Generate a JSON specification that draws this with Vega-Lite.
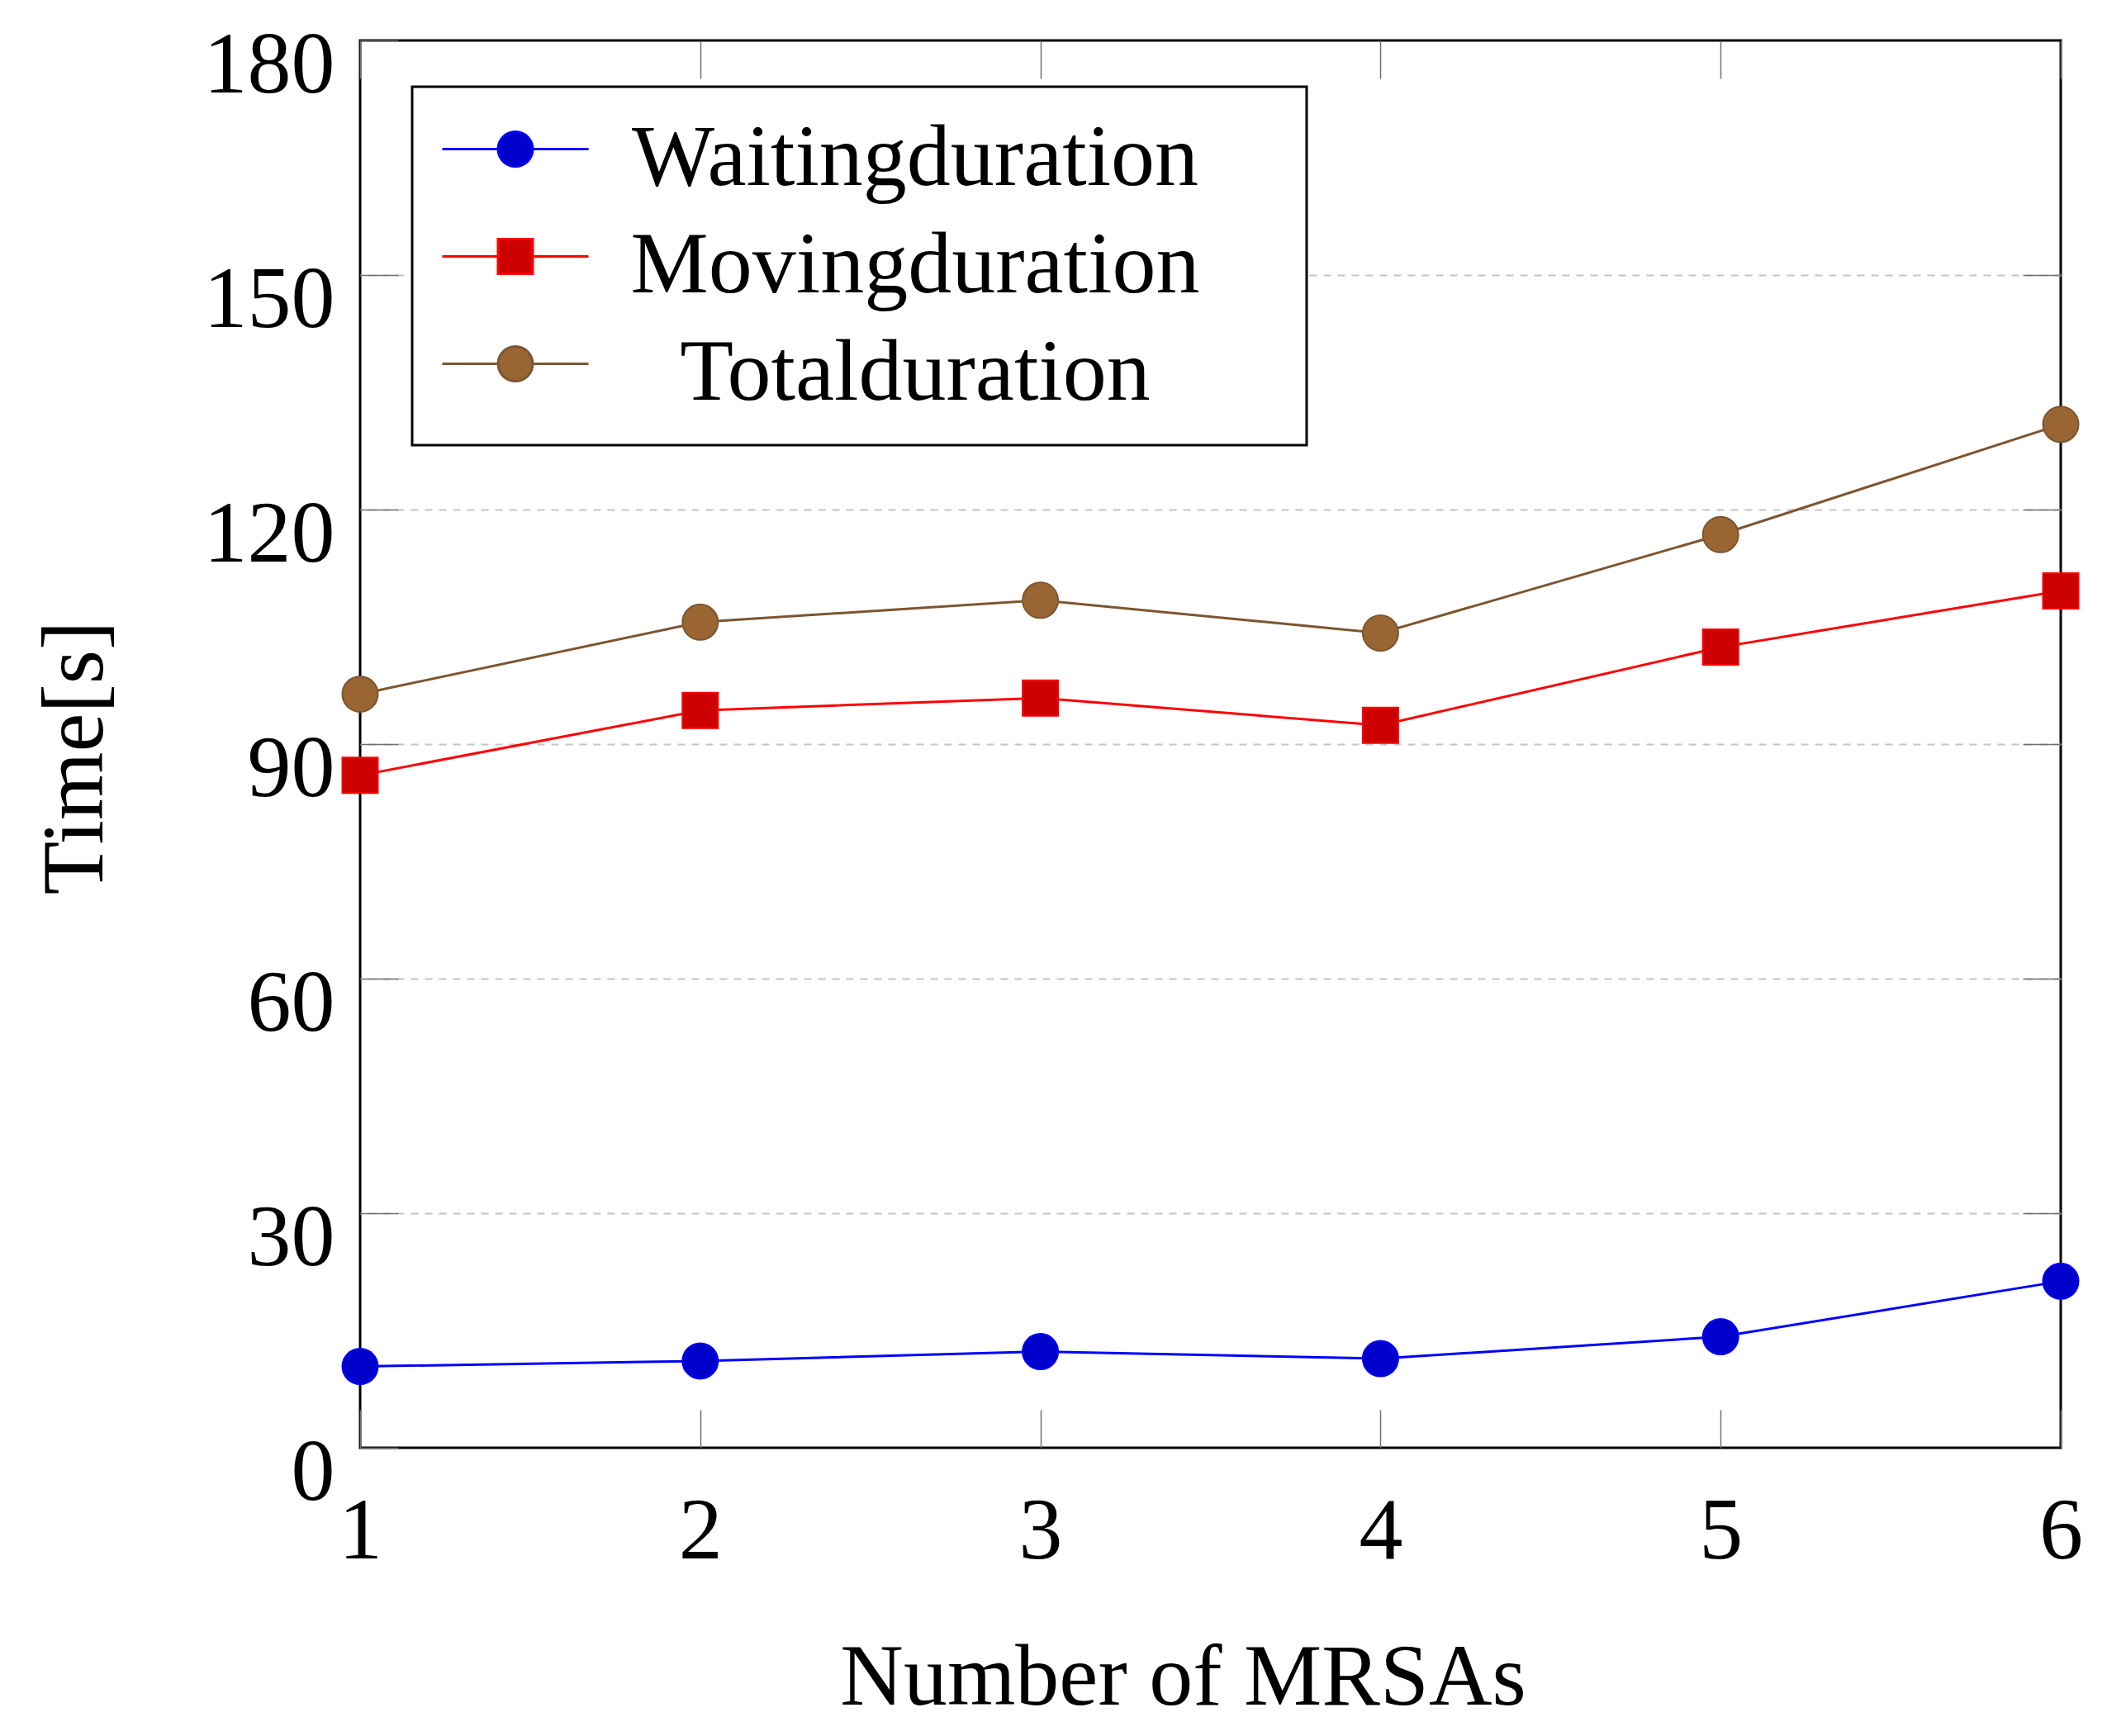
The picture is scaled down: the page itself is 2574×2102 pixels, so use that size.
{
  "$schema": "https://vega.github.io/schema/vega-lite/v6.json",
  "width": 2059,
  "height": 1704,
  "autosize": "none",
  "padding": {"left": 436, "top": 49, "right": 79, "bottom": 349},
  "background": "white",
  "config": {
    "font": "Liberation Serif",
    "view": {"stroke": "black", "strokeWidth": 3},
    "legend": {
      "orient": "none", "legendX": 63, "legendY": 56,
      "padding": 34, "rowPadding": 24,
      "strokeColor": "black", "strokeWidth": 3, "fillColor": "white",
      "symbolSize": 3600, "symbolStrokeWidth": 3, "symbolOffset": 38, "symbolOpacity": 1,
      "labelFontSize": 106, "labelColor": "black", "labelAlign": "center",
      "labelOffset": 431, "labelLimit": 3000
    }
  },
  "data": {
    "values": [
      {"mrsas": 1, "series": "Waitingduration", "time": 10.4},
      {"mrsas": 2, "series": "Waitingduration", "time": 11.1},
      {"mrsas": 3, "series": "Waitingduration", "time": 12.3},
      {"mrsas": 4, "series": "Waitingduration", "time": 11.4},
      {"mrsas": 5, "series": "Waitingduration", "time": 14.2},
      {"mrsas": 6, "series": "Waitingduration", "time": 21.3},
      {"mrsas": 1, "series": "Movingduration", "time": 86.0},
      {"mrsas": 2, "series": "Movingduration", "time": 94.3},
      {"mrsas": 3, "series": "Movingduration", "time": 95.9},
      {"mrsas": 4, "series": "Movingduration", "time": 92.4},
      {"mrsas": 5, "series": "Movingduration", "time": 102.4},
      {"mrsas": 6, "series": "Movingduration", "time": 109.6},
      {"mrsas": 1, "series": "Totalduration", "time": 96.4},
      {"mrsas": 2, "series": "Totalduration", "time": 105.6},
      {"mrsas": 3, "series": "Totalduration", "time": 108.4},
      {"mrsas": 4, "series": "Totalduration", "time": 104.2},
      {"mrsas": 5, "series": "Totalduration", "time": 116.8},
      {"mrsas": 6, "series": "Totalduration", "time": 130.9}
    ]
  },
  "layer": [
    {
      "mark": {"type": "line", "strokeWidth": 3},
      "encoding": {
        "x": {
          "field": "mrsas", "type": "quantitative",
          "scale": {"domain": [1, 6], "nice": false, "zero": false},
          "axis": {
            "orient": "bottom", "values": [1, 2, 3, 4, 5, 6], "format": "d",
            "domain": false, "grid": false,
            "tickSize": -46, "tickColor": "#707070", "tickWidth": 1.5,
            "labelFontSize": 106, "labelColor": "black", "labelPadding": 95,
            "labelFlush": false, "labelOverlap": false,
            "title": "Number of MRSAs", "titleFontSize": 106, "titleFontWeight": "normal",
            "titleColor": "black", "titleX": 996, "titleY": 310, "titleBaseline": "alphabetic"
          }
        },
        "y": {
          "field": "time", "type": "quantitative",
          "scale": {"domain": [0, 180], "nice": false},
          "axis": {
            "orient": "left", "values": [0, 30, 60, 90, 120, 150, 180],
            "domain": false, "grid": false,
            "tickSize": -46, "tickColor": "#707070", "tickWidth": 1.5,
            "labelFontSize": 106, "labelColor": "black", "labelPadding": 77,
            "labelOffset": 30, "labelBaseline": "middle", "labelOverlap": false, "labelFlush": false,
            "title": "Time[s]", "titleFontSize": 106, "titleFontWeight": "normal",
            "titleColor": "black", "titleX": -313, "titleY": 868, "titleAngle": 270,
            "titleBaseline": "alphabetic"
          }
        },
        "stroke": {
          "field": "series", "type": "nominal",
          "scale": {"domain": ["Waitingduration", "Movingduration", "Totalduration"], "range": ["#0000FF", "#FF0000", "#7D5530"]},
          "legend": {"title": null}
        }
      }
    },
    {
      "transform": [{"filter": "datum.series !== 'Movingduration'"}],
      "mark": {"type": "point", "shape": "circle", "filled": true, "size": 1849, "strokeWidth": 2, "opacity": 1},
      "encoding": {
        "x": {
          "field": "mrsas", "type": "quantitative",
          "axis": {
            "orient": "top", "values": [1, 2, 3, 4, 5, 6], "domain": false, "grid": false,
            "labels": false, "title": null,
            "tickSize": -46, "tickColor": "#707070", "tickWidth": 1.5
          }
        },
        "y": {
          "field": "time", "type": "quantitative",
          "axis": {
            "orient": "right", "values": [30, 60, 90, 120, 150], "domain": false,
            "labels": false, "title": null,
            "tickSize": -46, "tickColor": "#707070", "tickWidth": 1.5,
            "grid": true, "gridColor": "#c4c4c4", "gridDash": [9, 8], "gridWidth": 2
          }
        },
        "fill": {
          "field": "series", "type": "nominal",
          "scale": {"domain": ["Waitingduration", "Movingduration", "Totalduration"], "range": ["#0000CC", "#CC0000", "#996633"]},
          "legend": {"title": null}
        },
        "stroke": {"field": "series", "type": "nominal", "legend": {"title": null}}
      }
    },
    {
      "transform": [{"filter": "datum.series === 'Movingduration'"}],
      "mark": {"type": "point", "shape": "square", "filled": true, "size": 1849, "strokeWidth": 2, "opacity": 1},
      "encoding": {
        "x": {"field": "mrsas", "type": "quantitative", "axis": null},
        "y": {"field": "time", "type": "quantitative", "axis": null},
        "fill": {"field": "series", "type": "nominal", "legend": {"title": null}},
        "stroke": {"field": "series", "type": "nominal", "legend": {"title": null}}
      }
    },
    {
      "mark": {"type": "point", "filled": true, "opacity": 0},
      "encoding": {
        "x": {"field": "mrsas", "type": "quantitative", "axis": null},
        "y": {"field": "time", "type": "quantitative", "axis": null},
        "shape": {
          "field": "series", "type": "nominal",
          "scale": {
            "domain": ["Waitingduration", "Movingduration", "Totalduration"],
            "range": [
              "M-2.95,-0.38H-0.7M0.7,-0.38H2.95M-0.7,-0.38A0.7,0.7,0,1,1,0.7,-0.38A0.7,0.7,0,1,1,-0.7,-0.38ZM30.6,-0.38",
              "M-2.95,-0.38H-0.7M0.7,-0.38H2.95M-0.7,-1.08H0.7V0.32H-0.7ZM30.6,-0.38",
              "M-2.95,-0.38H-0.7M0.7,-0.38H2.95M-0.7,-0.38A0.7,0.7,0,1,1,0.7,-0.38A0.7,0.7,0,1,1,-0.7,-0.38ZM30.6,-0.38"
            ]
          },
          "legend": {"title": null}
        }
      }
    }
  ],
  "resolve": {"axis": {"x": "independent", "y": "independent"}}
}
